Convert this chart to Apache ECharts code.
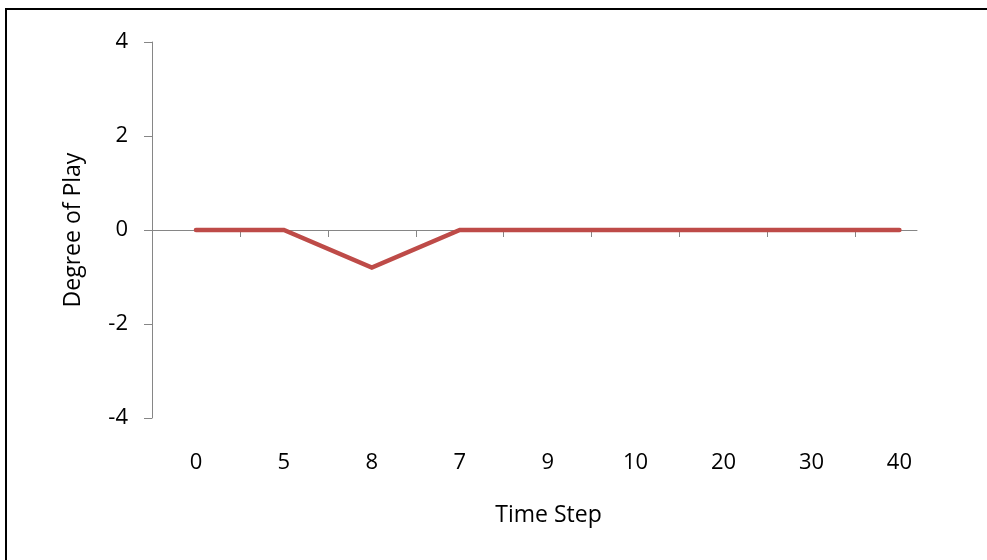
<!DOCTYPE html>
<html>
<head>
<meta charset="utf-8">
<script src="https://cdn.jsdelivr.net/npm/echarts@6/dist/echarts.min.js"></script>
<style>
html,body{margin:0;padding:0;background:#fff;}
#chart{width:987px;height:560px;}
</style>
</head>
<body>
<div id="chart"></div>
<script>
const categories = ['0', '5', '8', '7', '9', '10', '20', '30', '40'];
const degreeOfPlay = [0, 0, -0.8, 0, 0, 0, 0, 0, 0];
const yTicks = [-4, -2, 0, 2, 4];

const idx = categories.map((c, i) => i);
const boundaries = categories.slice(1).map((c, i) => i + 0.5);
const FONT = '"Open Sans", sans-serif';
const AXIS = '#868686';

const chart = echarts.init(document.getElementById('chart'), null, {renderer: 'canvas'});
chart.setOption({
  animation: false,
  backgroundColor: '#fff',
  graphic: [{
    type: 'rect',
    shape: {x: 6, y: 9, width: 1000, height: 600},
    style: {fill: 'none', stroke: '#000', lineWidth: 2},
    silent: true
  }],
  grid: {left: 152, top: 42, width: 765, height: 376, containLabel: false},
  xAxis: [{
    type: 'value',
    min: -0.5, max: 8.2,
    position: 'bottom',
    axisLine: {show: true, onZero: true, lineStyle: {color: AXIS, width: 1}},
    axisTick: {show: true, length: 7, customValues: boundaries, lineStyle: {color: AXIS}},
    axisLabel: {show: false},
    splitLine: {show: false}
  }, {
    type: 'value',
    min: -0.5, max: 8.2,
    position: 'bottom',
    name: 'Time Step',
    nameLocation: 'middle',
    nameGap: 86,
    nameTextStyle: {fontFamily: FONT, fontSize: 23, color: '#000', padding: [0, 0, 0, 28]},
    axisLine: {show: false, onZero: false},
    axisTick: {show: false},
    axisLabel: {
      show: true, margin: 34, customValues: idx,
      fontFamily: FONT, fontSize: 22, color: '#000',
      formatter: v => categories[Math.round(v)]
    },
    splitLine: {show: false}
  }],
  yAxis: {
    type: 'value',
    min: yTicks[0], max: yTicks[yTicks.length - 1], interval: 2,
    name: 'Degree of Play',
    nameLocation: 'middle',
    nameGap: 67,
    nameRotate: 90,
    nameTextStyle: {fontFamily: FONT, fontSize: 23, color: '#000'},
    axisLine: {show: true, onZero: false, lineStyle: {color: AXIS, width: 1}},
    axisTick: {show: true, length: 8, lineStyle: {color: AXIS}},
    axisLabel: {margin: 24, fontFamily: FONT, fontSize: 22, color: '#000'},
    splitLine: {show: false}
  },
  series: [{
    type: 'line',
    xAxisIndex: 0,
    data: degreeOfPlay.map((v, i) => [i, v]),
    showSymbol: false,
    symbol: 'none',
    lineStyle: {color: '#BE4B48', width: 4.5, cap: 'round', join: 'miter'},
    itemStyle: {color: '#BE4B48'}
  }]
});
</script>
</body>
</html>
